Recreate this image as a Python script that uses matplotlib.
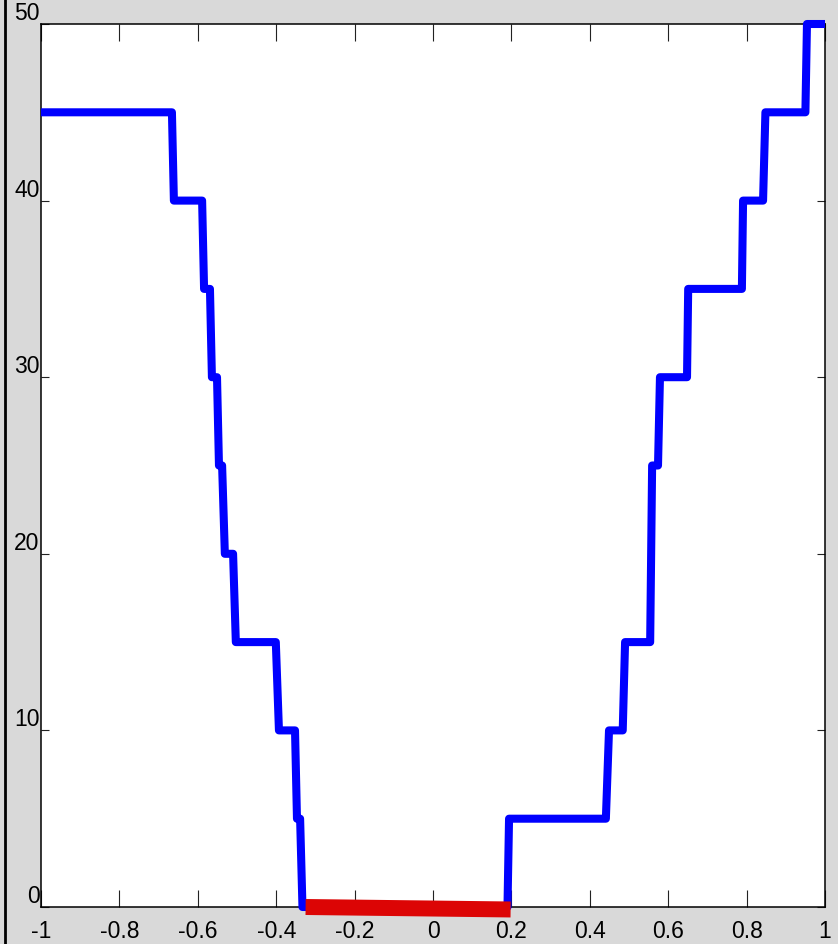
import matplotlib
matplotlib.use("Agg")
import matplotlib.pyplot as plt
from matplotlib.lines import Line2D

plt.rcParams['font.family'] = ['Liberation Sans', 'DejaVu Sans']
plt.rcParams['ytick.alignment'] = 'bottom'

# Staircase profile (blue)
step_x = [-1.0, -0.666, -0.661, -0.589, -0.584, -0.569, -0.564, -0.551, -0.546,
          -0.538, -0.531, -0.510, -0.503, -0.401, -0.393, -0.352, -0.347, -0.339,
          -0.333,
          0.190, 0.194, 0.441, 0.449, 0.484, 0.490, 0.554, 0.559, 0.574, 0.579,
          0.648, 0.651, 0.788, 0.791, 0.842, 0.848, 0.950, 0.954, 1.0]
step_y = [45, 45, 40, 40, 35, 35, 30, 30, 25,
          25, 20, 20, 15, 15, 10, 10, 5, 5,
          0,
          0, 5, 5, 10, 10, 15, 15, 25, 25, 30,
          30, 35, 35, 40, 40, 45, 45, 50, 50]

# Zero band (red)
band_x = [-0.325, 0.198]
band_y = [0.0, -0.14]

x_ticks = [-1.0, -0.8, -0.6, -0.4, -0.2, 0.0, 0.2, 0.4, 0.6, 0.8, 1.0]
x_labels = ['-1', '-0.8', '-0.6', '-0.4', '-0.2', '0', '0.2', '0.4', '0.6', '0.8', '1']
y_ticks = [0, 10, 20, 30, 40, 50]
y_labels = ['0', '10', '20', '30', '40', '50']

fig = plt.figure(figsize=(8.38, 9.45), dpi=100, facecolor='#d9d9d9')
ax = fig.add_axes([41 / 838, 37 / 945, 784 / 838, 883 / 945])
ax.set_facecolor('white')

ax.plot(step_x, step_y, color='#0000ff', lw=5.8, solid_joinstyle='round',
        solid_capstyle='butt', clip_on=False, zorder=3)
ax.plot(band_x, band_y, color='#dc0505', lw=11.5, solid_capstyle='butt',
        clip_on=False, zorder=4)

ax.set_xlim(-1, 1)
ax.set_ylim(0, 50)
ax.set_xticks(x_ticks)
ax.set_xticklabels(x_labels)
ax.set_yticks(y_ticks)
ax.set_yticklabels(y_labels)

ax.tick_params(axis='x', direction='in', length=12.5, width=0.8, color='#222222',
               top=True, labelsize=16.5, pad=9)
ax.tick_params(axis='y', direction='in', length=6, width=0.8, color='#222222',
               right=True, labelsize=16.5, pad=1)
for s in ax.spines.values():
    s.set_linewidth(1.1)
    s.set_color('black')

fig.add_artist(Line2D([4.6 / 838, 4.6 / 838], [0, 1], transform=fig.transFigure,
                      color='black', lw=2))

fig.savefig('out.png', dpi=100, facecolor=fig.get_facecolor())
